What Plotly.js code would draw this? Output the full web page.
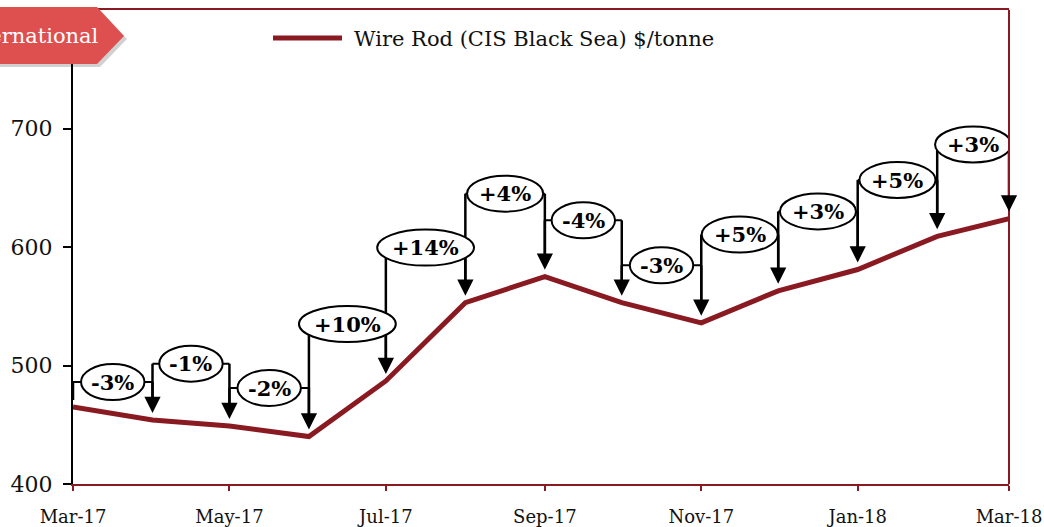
<!DOCTYPE html>
<html>
<head>
<meta charset="utf-8">
<script src="https://cdn.plot.ly/plotly-3.0.1.min.js"></script>
<style>html,body{margin:0;padding:0;background:#fff;}#chart{width:1044px;height:527px;}</style>
</head>
<body>
<div id="chart"></div>
<script>
// ---- data ----
const months = ['2017-03-01','2017-04-01','2017-05-01','2017-06-01','2017-07-01','2017-08-01','2017-09-01',
                '2017-10-01','2017-11-01','2017-12-01','2018-01-01','2018-02-01','2018-03-01'];
const price = [465, 454, 449, 440, 487, 553, 575, 553, 536, 563, 581, 609, 624];
const changeLabels = ['-3%','-1%','-2%','+10%','+14%','+4%','-4%','-3%','+5%','+3%','+5%','+3%'];
const seriesName = 'Wire Rod (CIS Black Sea) $/tonne';
const tickMonths = ['2017-03-01','2017-05-01','2017-07-01','2017-09-01','2017-11-01','2018-01-01','2018-03-01'];
const yTicks = [400, 500, 600, 700];
const tagText = 'International';

// ---- label placement (layout, not data) ----
const labelLevel = [486, 501.5, 481, 535, 599.5, 645, 622.5, 584.5, 610.5, 630, 656.5, 686.5];

// ---- geometry / style ----
const W = 1044, H = 527;
const M = {l: 73, r: 35, t: 10, b: 43};
const plotW = W - M.l - M.r, plotH = H - M.t - M.b;
const yRange = [400, 800];
const unitsPerPx = (yRange[1] - yRange[0]) / plotH;
const gapPx = 7;
const dark = '#8a1a22';
const serif = '"DejaVu Serif", Georgia, serif';
const pctFont = {family: serif, size: 21, color: '#000'};

function ms(d){ const p = d.split('-').map(Number); return Date.UTC(p[0], p[1]-1, p[2]); }
function msStr(t){ return new Date(t).toISOString().slice(0,19).replace('T',' '); }
const px = v => (v - M.l) / plotW;      // page px -> paper x
const py = v => (H - M.b - v) / plotH;  // page px -> paper y

const canvas = document.createElement('canvas');
const ctx = canvas.getContext('2d');
ctx.font = 'bold ' + pctFont.size + 'px ' + serif;

const shapes = [];
const annotations = [];

// brackets and vertical connectors
for (let i = 0; i < changeLabels.length; i++) {
  const x0 = months[i], x1 = months[i+1], lv = labelLevel[i];
  const lineStyle = {color: '#000', width: 2.5};
  shapes.push({type:'line', xref:'x', yref:'y', x0:x0, x1:x1, y0:lv, y1:lv, line:{color:'#000', width:2}, layer:'above'});
  shapes.push({type:'line', xref:'x', yref:'y', x0:x0, x1:x0, y0:lv, y1:price[i] + gapPx*unitsPerPx + (i===0?0:6), line:lineStyle, layer:'above'});
  shapes.push({type:'line', xref:'x', yref:'y', x0:x1, x1:x1, y0:lv, y1:price[i+1] + gapPx*unitsPerPx + 6, line:lineStyle, layer:'above'});
}
// ellipses + texts
for (let i = 0; i < changeLabels.length; i++) {
  const mid = msStr((ms(months[i]) + ms(months[i+1])) / 2);
  const tw = ctx.measureText(changeLabels[i]).width;
  const ew = tw * 1.42 + 2, eh = 36;
  shapes.push({type:'circle', xref:'x', yref:'y', xsizemode:'pixel', ysizemode:'pixel',
    xanchor: mid, yanchor: labelLevel[i], x0: -ew/2, x1: ew/2, y0: -eh/2, y1: eh/2,
    fillcolor:'#fff', line:{color:'#000', width:2}, layer:'above'});
  annotations.push({xref:'x', yref:'y', x: mid, y: labelLevel[i], text: '<b>' + changeLabels[i] + '</b>',
    showarrow:false, font: pctFont, xanchor:'center', yanchor:'middle'});
}
// arrowheads
for (let j = 1; j < months.length; j++) {
  annotations.push({xref:'x', yref:'y', x: months[j], y: price[j], ax: 0, ay: -20, axref:'pixel', ayref:'pixel',
    showarrow:true, arrowhead:2, arrowsize:1.3, arrowwidth:2.5, arrowcolor:'#000', standoff: gapPx, text:''});
}
// right frame
shapes.push({type:'line', xref:'paper', yref:'paper', x0:1, x1:1, y0:0, y1:1, line:{color:dark, width:2}, layer:'above'});

// tag "International"
const tagPts = [[-10,7],[97,7],[124,36],[97,64],[-10,64]];
const tagPath = (dx, dy) => 'M' + tagPts.map(p => px(p[0]+dx) + ',' + py(p[1]+dy)).join(' L') + ' Z';
shapes.push({type:'path', xref:'paper', yref:'paper', path: tagPath(3,3), fillcolor:'rgba(0,0,0,0.18)', line:{width:0}, layer:'above'});
shapes.push({type:'path', xref:'paper', yref:'paper', path: tagPath(0,0), fillcolor:'#de5050', line:{width:0}, layer:'above'});
annotations.push({xref:'paper', yref:'paper', x: px(101), y: py(36), xanchor:'right', yanchor:'middle',
  text: tagText, showarrow:false, font:{family: serif, size: 21, color:'#fff'}});

// custom legend
shapes.push({type:'line', xref:'paper', yref:'paper', x0: px(273), x1: px(342), y0: py(38), y1: py(38), line:{color: dark, width:5}, layer:'above'});
annotations.push({xref:'paper', yref:'paper', x: px(352), y: py(39), xanchor:'left', yanchor:'middle',
  text: seriesName, showarrow:false, font:{family: serif, size: 21, color:'#111'}});

const trace = {
  x: months, y: price, type:'scatter', mode:'lines', name: seriesName,
  line:{color: dark, width: 5}, showlegend:false, hoverinfo:'skip'
};

const layout = {
  width: W, height: H, margin: M,
  paper_bgcolor:'#fff', plot_bgcolor:'#fff',
  showlegend:false,
  xaxis: {type:'date', range:[months[0], months[months.length-1]], tickvals: tickMonths, tickformat:'%b-%y',
    showgrid:false, zeroline:false, showline:true, linecolor: dark, linewidth:2, mirror:true,
    ticks:'outside', ticklen:5, tickwidth:2, tickcolor: dark,
    tickfont:{family: serif, size: 18, color:'#111'}, ticklabelstandoff: 10},
  yaxis: {range: yRange, tickvals: yTicks, showgrid:false, zeroline:false, showline:true, linecolor:'#000', linewidth:2,
    ticks:'outside', ticklen:8, tickwidth:2, tickcolor:'#000',
    tickfont:{family: serif, size: 22, color:'#111'}, ticklabelstandoff: 6},
  shapes: shapes, annotations: annotations
};

Plotly.newPlot('chart', [trace], layout, {displayModeBar:false, staticPlot:true});
</script>
</body>
</html>
